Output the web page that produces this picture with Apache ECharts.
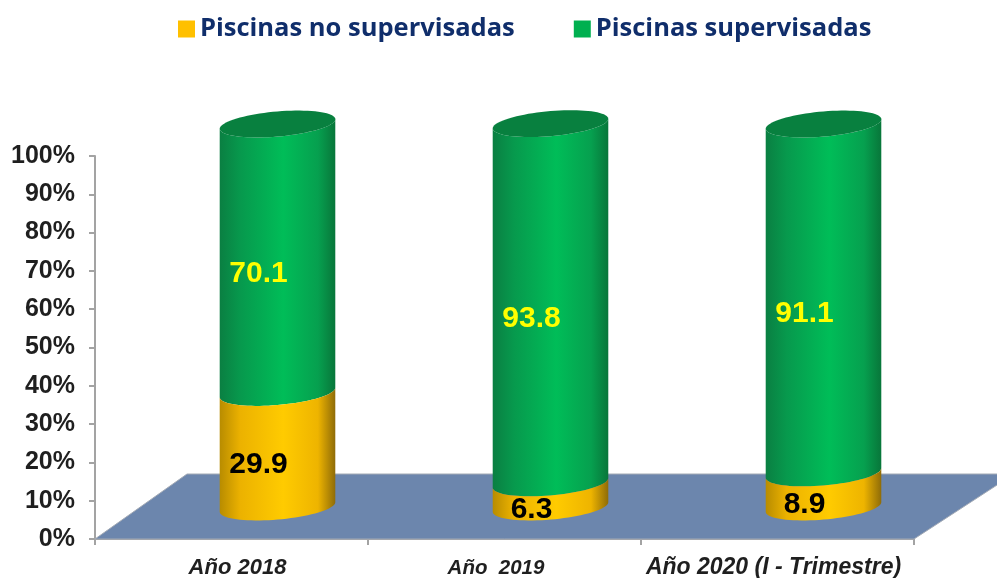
<!DOCTYPE html>
<html><head><meta charset="utf-8">
<style>html,body{margin:0;padding:0;background:#fff}#c{width:997px;height:578px}</style>
<script src="https://cdn.jsdelivr.net/npm/echarts@6/dist/echarts.min.js"></script>
</head><body><div id="c"></div>
<script>
const categories = ['Año 2018', 'Año  2019', 'Año 2020 (I - Trimestre)'];
const noSupervisadas = [29.9, 6.3, 8.9];
const supervisadas = [70.1, 93.8, 91.1];
const yTicks = [0, 100, 10];

const DEPTH_X = 46, DEPTH_Y = -32, RX = 58, RY = 12.5, PHI = -5 * Math.PI / 180;
const LABEL_DX = -19, LABEL_DY = 15;

function arc(cx, cy, reverse) {
  const t0 = Math.atan2(-RY * Math.sin(PHI), RX * Math.cos(PHI));
  const pts = [];
  for (let i = 0; i <= 40; i++) {
    const t = t0 + Math.PI * (reverse ? 40 - i : i) / 40;
    pts.push([
      cx + RX * Math.cos(t) * Math.cos(PHI) - RY * Math.sin(t) * Math.sin(PHI),
      cy + RX * Math.cos(t) * Math.sin(PHI) + RY * Math.sin(t) * Math.cos(PHI)
    ]);
  }
  return pts;
}
function shade(stops) {
  return { type: 'linear', x: 0, y: 0, x2: 1, y2: 0,
    colorStops: stops.map((c, i) => ({ offset: [0, 0.18, 0.55, 0.85, 1][i], color: c })) };
}
const GREEN = ['#0a7f42', '#07994d', '#00bd58', '#06a04f', '#08763a'];
const YELLOW = ['#b88c00', '#ecb200', '#ffcb00', '#eeb400', '#8f6c08'];

function cylinder(colors, textColor, withCap) {
  return function (params, api) {
    const i = api.value(0), low = api.value(1), val = api.value(2);
    const p0 = api.coord([i, low]), p1 = api.coord([i, low + val]);
    const cx = p0[0] + DEPTH_X, y0 = p0[1] + DEPTH_Y, y1 = p1[1] + DEPTH_Y;
    const children = [{
      type: 'polygon',
      shape: { points: arc(cx, y0, false).concat(arc(cx, y1, true)) },
      style: { fill: shade(colors) }
    }];
    if (withCap) {
      const a = arc(cx, y1, false);
      const b = a.map(q => [2 * cx - q[0], 2 * y1 - q[1]]);
      children.push({
        type: 'polygon', shape: { points: a.concat(b) },
        style: { fill: '#08803f' }
      });
    }
    children.push({
      type: 'text',
      x: cx + LABEL_DX,
      y: api.coord([i, low + val / 2])[1] + DEPTH_Y + LABEL_DY,
      style: { text: String(val), fill: textColor, align: 'center', verticalAlign: 'middle',
        font: 'bold 30px "Liberation Sans", Arial, sans-serif' }
    });
    return { type: 'group', children };
  };
}
function floor(params, api) {
  const band = api.size([1, 0])[0];
  const first = api.coord([0, 0]);
  const last = api.coord([categories.length - 1, 0]);
  const left = first[0] - band / 2, right = last[0] + band / 2, y = first[1];
  const points = [[left, y], [left + 92, y - 65], [right + 100, y - 65], [right, y]];
  return { type: 'polygon', shape: { points },
    style: { fill: '#6c86ad', stroke: '#a3aab5', lineWidth: 1 } };
}

const chart = echarts.init(document.getElementById('c'), null, { renderer: 'canvas' });
const axisFont = '"Liberation Sans", Arial, sans-serif';
const xl = { color: '#1f1f1f', fontWeight: 'bold', fontStyle: 'italic', fontSize: 22, fontFamily: axisFont, lineHeight: 26 };
chart.setOption({
  animation: false,
  backgroundColor: '#fff',
  legend: {
    top: 11, left: 173, itemWidth: 17, itemHeight: 17, itemGap: 59,
    icon: 'rect', selectedMode: false,
    data: ['Piscinas no supervisadas', 'Piscinas supervisadas'],
    textStyle: { color: '#102e6b', fontWeight: 'bold', fontSize: 25.5, fontFamily: '"Open Sans", sans-serif' }
  },
  grid: { left: 95, right: 83, top: 156, bottom: 39, outerBoundsMode: 'none' },
  xAxis: {
    type: 'category', data: categories,
    axisLine: { lineStyle: { color: '#a3a3a3', width: 2 } },
    axisTick: { show: true, interval: 0, length: 6, lineStyle: { color: '#a3a3a3', width: 2 } },
    axisLabel: {
      interval: 0, margin: 16, ...xl,
      formatter: (v, i) => '{s' + i + '|' + v + '}',
      rich: {
        s0: { ...xl, padding: [0, 0, 0, 12] },
        s1: { ...xl, fontSize: 20.5, padding: [0, 17, 0, 0] },
        s2: { ...xl, fontSize: 23, padding: [0, 8, 0, 0] }
      }
    }
  },
  yAxis: {
    type: 'value', min: yTicks[0], max: yTicks[1], interval: yTicks[2],
    splitLine: { show: false },
    axisLine: { show: true, lineStyle: { color: '#a3a3a3', width: 2 } },
    axisTick: { show: true, length: 6, lineStyle: { color: '#a3a3a3', width: 2 } },
    axisLabel: { formatter: '{value}%', color: '#1f1f1f', fontWeight: 'bold', fontSize: 25, fontFamily: axisFont, margin: 20 }
  },
  series: [
    { type: 'custom', silent: true, z: 1, renderItem: floor, data: [[0]], encode: { x: 0 }, tooltip: { show: false } },
    { name: 'Piscinas no supervisadas', type: 'custom', z: 3, clip: false,
      itemStyle: { color: '#ffc000' },
      renderItem: cylinder(YELLOW, '#000', false),
      encode: { x: 0, y: [1, 2] },
      data: noSupervisadas.map((v, i) => [i, 0, v]) },
    { name: 'Piscinas supervisadas', type: 'custom', z: 2, clip: false,
      itemStyle: { color: '#00b050' },
      renderItem: cylinder(GREEN, '#ffff00', true),
      encode: { x: 0, y: [1, 2] },
      data: supervisadas.map((v, i) => [i, noSupervisadas[i], v]) }
  ]
});
</script></body></html>
